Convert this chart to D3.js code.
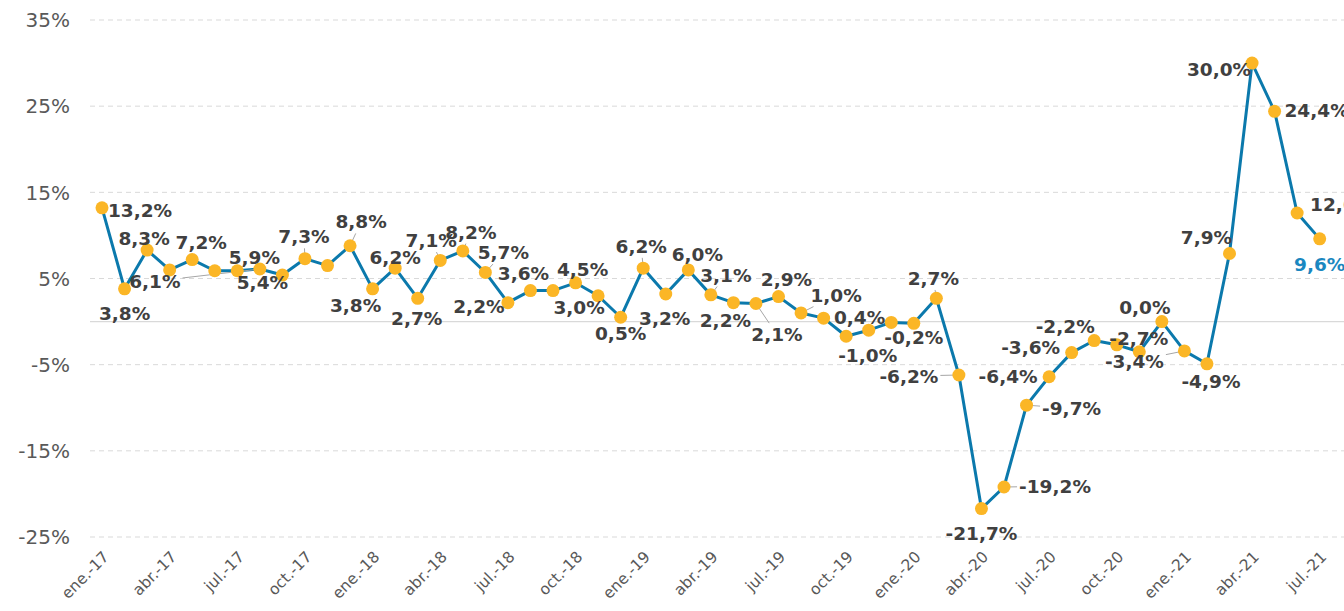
<!DOCTYPE html>
<html lang="es">
<head>
<meta charset="UTF-8">
<title>Variación interanual</title>
<script src="https://d3js.org/d3.v7.min.js"></script>
<style>
  html, body { margin: 0; padding: 0; background: #fff; overflow: hidden; }
  svg { display: block; font-family: 'DejaVu Sans', Verdana, sans-serif; }
</style>
</head>
<body>
<div id="chart"></div>
<script>
// --- Data ---
const mesesCortos = ['ene.', 'feb.', 'mar.', 'abr.', 'may.', 'jun.', 'jul.', 'ago.', 'sept.', 'oct.', 'nov.', 'dic.'];
const anios = ['17', '18', '19', '20', '21'];
const meses = anios.flatMap(a => mesesCortos.map(m => `${m}-${a}`)).slice(0, 55);

const variacion = [
  13.2, 3.8, 8.3, 6.0, 7.2, 5.9, 5.9, 6.1, 5.4, 7.3, 6.5, 8.8,
  3.8, 6.2, 2.7, 7.1, 8.2, 5.7, 2.2, 3.6, 3.6, 4.5, 3.0, 0.5,
  6.2, 3.2, 6.0, 3.1, 2.2, 2.1, 2.9, 1.0, 0.4, -1.7, -1.0, -0.1,
  -0.2, 2.7, -6.2, -21.7, -19.2, -9.7, -6.4, -3.6, -2.2, -2.7, -3.5, 0.0,
  -3.4, -4.9, 7.9, 30.0, 24.4, 12.6, 9.6
];

const yTicks = [-25, -15, -5, 5, 15, 25, 35];

// label placement: index -> [dx, dy, leader]
const etiquetas = {
  0: [38, 2], 1: [0, 24], 2: [-3, -12], 4: [9, -17], 6: [17, -13],
  7: [-105, 12, true], 8: [-20, 7], 9: [-1, -22, true], 11: [11, -24, true],
  12: [-17, 16], 13: [0, -11], 14: [-1, 20], 15: [-9, -20, true],
  16: [8, -19, true], 17: [18, -20, true], 18: [-29, 4], 19: [-7, -17],
  21: [7, -13], 22: [-19, 12], 23: [0, 16], 24: [-2, -22, true],
  25: [-1, 24], 26: [9, -16], 27: [15, -20, true], 28: [-8, 18],
  29: [21, 31, true], 30: [8, -17], 31: [35, -18, true], 32: [36, -1],
  34: [-1, 25], 36: [0, 14], 37: [-3, -20, true], 38: [-50, 1, true],
  39: [0, 25], 40: [51, -1, true], 41: [45, 3, true], 42: [-41, 0],
  43: [-41, -5], 44: [-29, -14], 45: [22, -7], 47: [-17, -14],
  48: [-50, 10, true], 49: [4, 18], 50: [-23, -16], 51: [-33, 6],
  52: [42, -1], 53: [45, -9], 54: [0, 25]
};

// --- Chart ---
const width = 1344, height = 611;
const x = d3.scaleLinear().domain([0, variacion.length - 1]).range([102, 1319.7]);
const y = d3.scaleLinear().domain([-25, 35]).range([537, 20]);

const svg = d3.select('#chart').append('svg')
  .attr('width', width).attr('height', height);

const fmt = v => v.toFixed(1).replace('.', ',') + '%';

// gridlines
svg.append('g').selectAll('line')
  .data(yTicks)
  .enter().append('line')
  .attr('x1', 90).attr('x2', width)
  .attr('y1', d => y(d)).attr('y2', d => y(d))
  .attr('stroke', '#d9d9d9').attr('stroke-width', 1)
  .attr('stroke-dasharray', '5,4');

svg.append('line')
  .attr('x1', 90).attr('x2', width)
  .attr('y1', y(0)).attr('y2', y(0))
  .attr('stroke', '#d9d9d9').attr('stroke-width', 1.3);

// y axis labels
svg.append('g').selectAll('text')
  .data(yTicks)
  .enter().append('text')
  .attr('x', 70).attr('y', d => y(d))
  .attr('dy', '0.36em')
  .attr('text-anchor', 'end')
  .attr('fill', '#595959')
  .style('font-size', '20px')
  .text(d => `${d}%`);

// x axis labels, every 3 months
const xIdx = d3.range(0, meses.length, 3);
svg.append('g').selectAll('text')
  .data(xIdx)
  .enter().append('text')
  .attr('transform', i => `translate(${x(i) + 4},${554}) rotate(-45)`)
  .attr('text-anchor', 'end')
  .attr('dy', '0.35em')
  .attr('fill', '#595959')
  .style('font-size', '15.5px')
  .text(i => meses[i]);

// line
const line = d3.line().x((d, i) => x(i)).y(d => y(d));
svg.append('path')
  .datum(variacion)
  .attr('d', line)
  .attr('fill', 'none')
  .attr('stroke', '#0b79ac')
  .attr('stroke-width', 3)
  .attr('stroke-linejoin', 'round');

// leader lines + labels
const lab = svg.append('g');
const leaders = svg.append('g');
Object.entries(etiquetas).forEach(([k, [dx, dy, leader]]) => {
  const i = +k;
  const px = x(i), py = y(variacion[i]);
  const t = lab.append('text')
    .attr('x', px + dx).attr('y', py + dy)
    .attr('dy', '0.36em')
    .attr('text-anchor', 'middle')
    .attr('fill', i === variacion.length - 1 ? '#1a87c0' : '#404040')
    .style('font-size', '18.5px')
    .style('font-weight', 'bold')
    .text(fmt(variacion[i]));
  if (leader) {
    const b = t.node().getBBox();
    const cx = b.x + b.width / 2, cy = b.y + b.height / 2;
    const vx = px - cx, vy = py - cy;
    const s = Math.min(Math.abs((b.width / 2 + 2) / (vx || 1e-6)), Math.abs((b.height / 2 + 1) / (vy || 1e-6)));
    leaders.append('line')
      .attr('x1', cx + vx * s).attr('y1', cy + vy * s)
      .attr('x2', px).attr('y2', py)
      .attr('stroke', '#a6a6a6').attr('stroke-width', 1);
  }
});

// markers
svg.append('g').selectAll('circle')
  .data(variacion)
  .enter().append('circle')
  .attr('cx', (d, i) => x(i)).attr('cy', d => y(d))
  .attr('r', 6.5)
  .attr('fill', '#fbb626');

lab.raise();
</script>
</body>
</html>
